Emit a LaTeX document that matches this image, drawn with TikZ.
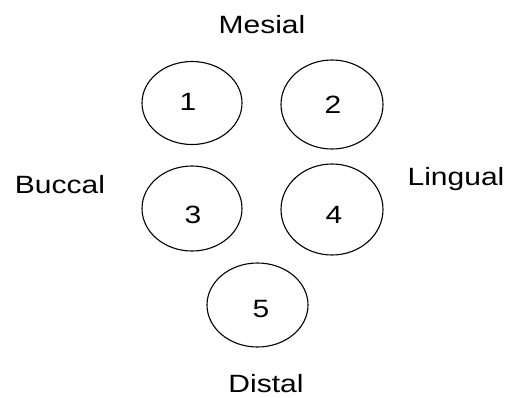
\documentclass[tikz,border=0pt]{standalone}
\usepackage{fontspec}
\setmainfont[FakeStretch=1.2]{Liberation Sans}
\usetikzlibrary{shapes.geometric}
\begin{document}
\begin{tikzpicture}[x=1pt,y=-1pt,
  tooth/.style={draw, ellipse, line width=1.1pt, inner sep=0pt},
  lbl/.style={anchor=base, inner sep=0pt, font=\fontsize{25}{28}\selectfont},
]
\useasboundingbox (0,0) rectangle (509,397);
\node[tooth, minimum width=100pt, minimum height=83pt] (e1) at (192,103) {};
\node[tooth, minimum width=102pt, minimum height=89pt] (e2) at (332,104.5) {};
\node[tooth, minimum width=100pt, minimum height=85pt] (e3) at (192,208.5) {};
\node[tooth, minimum width=102pt, minimum height=91pt] (e4) at (332,209.5) {};
\node[tooth, minimum width=101pt, minimum height=84pt] (e5) at (257.5,305) {};
\node[lbl] (n1) at (188,110) {1};
\node[lbl] (n2) at (333,113) {2};
\node[lbl] (n3) at (193,223) {3};
\node[lbl] (n4) at (334,223) {4};
\node[lbl] (n5) at (261,317) {5};
\node[lbl] (mesial) at (262,33) {Mesial};
\node[lbl] (buccal) at (60,193) {Buccal};
\node[lbl] (lingual) at (456,185) {Lingual};
\node[lbl] (distal) at (266,392) {Distal};
\end{tikzpicture}
\end{document}
